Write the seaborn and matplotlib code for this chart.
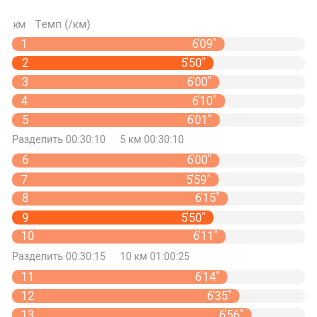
import matplotlib
matplotlib.use("Agg")
import matplotlib.pyplot as plt
import seaborn as sns
import pandas as pd
from matplotlib.patches import FancyBboxPatch

# ---- data ----
km = [1, 2, 3, 4, 5, 6, 7, 8, 9, 10, 11, 12, 13]
pace_labels = ["6'09\"", "5'50\"", "6'00\"", "6'10\"", "6'01\"",
               "6'00\"", "5'59\"", "6'15\"", "5'50\"", "6'11\"",
               "6'14\"", "6'35\"", "6'56\""]
pace_sec = [369, 350, 360, 370, 361, 360, 359, 375, 350, 371, 374, 395, 416]
split_texts = ["Разделить 00:30:10", "Разделить 00:30:15"]
total_texts = ["5 км 00:30:10", "10 км 01:00:25"]
header = ["км", "Темп (/км)"]
track_max = 509  # grey track length (s)

# ---- layout ----
W = 317
K = 0.576          # px per second
X0 = 12            # left edge of bars, px
def px2x(px):
    return (px - X0) / K

PITCH = 19
GAP = 21.5
y_centers = [44 + PITCH * i + GAP * (i // 5) for i in range(len(km))]

normal = "#FA9166"
fast = "#FD6521"
track = "#F4F4F4"
grey_txt = "#8C8C8C"

fastest = min(pace_sec)
df = pd.DataFrame({"km": km, "pace": pace_sec, "y": y_centers,
                   "kind": ["fast" if p == fastest else "normal" for p in pace_sec],
                   "track": [track_max] * len(km)})

fig = plt.figure(figsize=(W / 100, W / 100), dpi=100)
ax = fig.add_axes([0, 0, 1, 1])
sns.set_style("white")
fam = ["Roboto", "DejaVu Sans"]

bh = 14 / PITCH
sns.barplot(data=df, x="track", y="y", orient="h", native_scale=True,
            color=track, width=bh, ax=ax, saturation=1)
sns.barplot(data=df, x="pace", y="y", orient="h", native_scale=True,
            hue="kind", palette={"normal": normal, "fast": fast}, dodge=False,
            width=bh, ax=ax, legend=False, saturation=1)

ax.set_xlim(px2x(0), px2x(W))
ax.set_ylim(W, 0)
ax.axis("off")

# round the bars
r = 7  # px
for p in list(ax.patches):
    x, y = p.get_x(), p.get_y()
    w, h = p.get_width(), p.get_height()
    if w <= 0:
        continue
    col = p.get_facecolor()
    fb = FancyBboxPatch((x, y), w, h,
                        boxstyle=f"round,pad=0,rounding_size={r / K}",
                        mutation_aspect=K, facecolor=col, edgecolor="none",
                        linewidth=0, zorder=p.get_zorder())
    p.remove()
    ax.add_patch(fb)

# texts
ax.text(px2x(12), 25, header[0], ha="left", va="center", fontsize=7.8,
        color=grey_txt, family=fam)
ax.text(px2x(35), 25, header[1], ha="left", va="center", fontsize=7.8,
        color=grey_txt, family=fam)

for k_, yc, lab, p in zip(km, y_centers, pace_labels, pace_sec):
    ax.text(px2x(21), yc + 0.5, str(k_), ha="left", va="center", fontsize=8.5,
            color="white", family=fam)
    ax.text(p - 8 / K, yc + 0.5, lab, ha="right", va="center", fontsize=8.5,
            color="white", family=fam)

for gi in range(2):
    yc = y_centers[5 * gi + 4] + 20
    ax.text(px2x(12), yc, split_texts[gi], ha="left", va="center", fontsize=7.4,
            color=grey_txt, family=fam)
    ax.text(px2x(120), yc, total_texts[gi], ha="left", va="center", fontsize=7.4,
            color=grey_txt, family=fam)

fig.savefig("out.png", dpi=100)
